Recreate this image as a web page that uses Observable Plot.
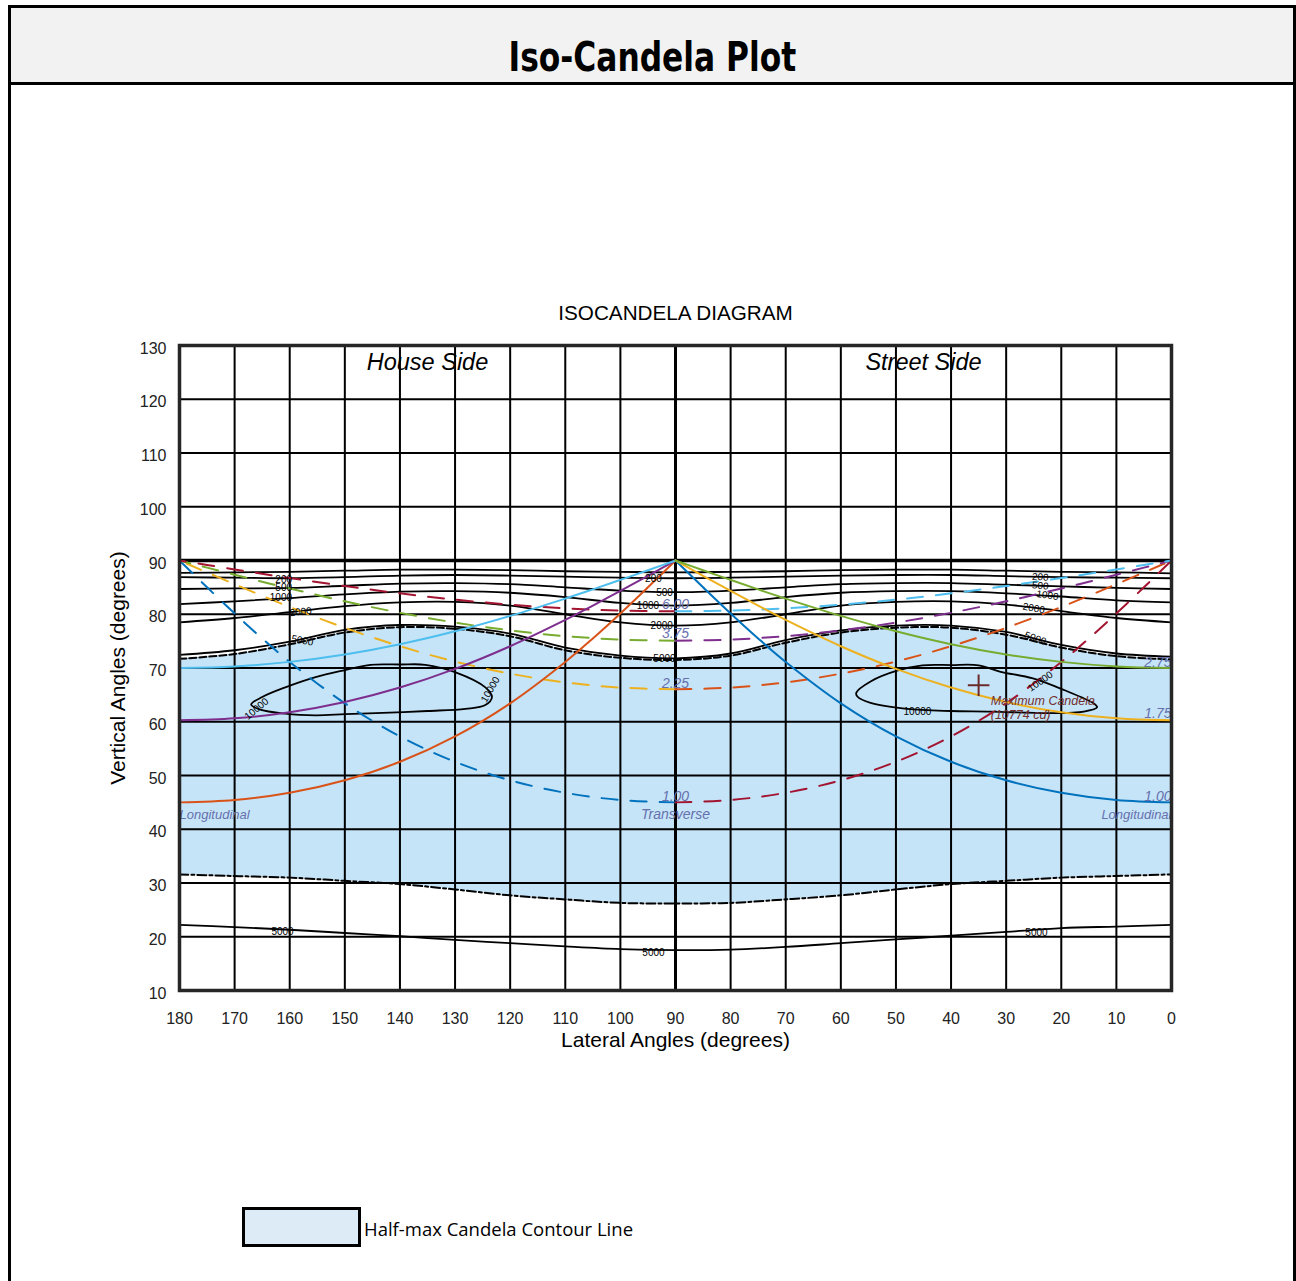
<!DOCTYPE html>
<html><head><meta charset="utf-8">
<script src="https://cdn.jsdelivr.net/npm/d3@7"></script>
<script src="https://cdn.jsdelivr.net/npm/@observablehq/plot@0.6"></script>
<style>
body{margin:0;background:#fff;}
#page{position:relative;width:1296px;height:1281px;overflow:hidden;background:#fff;}
#outer{position:absolute;left:8px;top:5px;width:1288px;height:1300px;border:3px solid #000;box-sizing:border-box;}
#band{position:absolute;left:8px;top:5px;width:1288px;height:80px;border:3px solid #000;box-sizing:border-box;background:#f2f2f2;}
#title{position:absolute;left:8px;width:1288px;top:37px;text-align:center;font-family:"Liberation Sans Narrow","DejaVu Sans Condensed",sans-serif;font-weight:bold;font-size:40px;line-height:40px;color:#000;}
#title span{display:inline-block;transform:scaleX(0.87);transform-origin:center;}
#chart{position:absolute;left:0;top:95px;}
#swatch{position:absolute;left:242px;top:1207px;width:119px;height:40px;box-sizing:border-box;border:3px solid #000;background:#ddebf7;}
#legtext{position:absolute;left:364px;top:1216px;font-family:"Open Sans",sans-serif;font-size:18.5px;line-height:26px;color:#000;}
</style></head>
<body><div id="page"><div id="outer"></div><div id="band"></div><div id="title"><span>Iso-Candela Plot</span></div><div id="chart"></div><div id="swatch"></div><div id="legtext">Half-max Candela Contour Line</div></div>
<script>
const xTicks = [180,170,160,150,140,130,120,110,100,90,80,70,60,50,40,30,20,10,0];
const yTicks = [10,20,30,40,50,60,70,80,90,100,110,120,130];

// iso-candela contours (lateral H, vertical V)
const contourH = [180,170,160,150,140,130,120,110,100,90,80,70,60,50,40,30,20,10,0];
const cd100  = [87.7,87.8,87.9,88.1,88.3,88.3,88.2,88.0,87.9,87.8,87.9,88.0,88.2,88.3,88.3,88.1,87.9,87.8,87.6];
const cd200  = [86.9,86.8,86.7,86.9,87.2,87.3,87.2,87.0,86.8,86.7,86.8,87.0,87.2,87.3,87.3,87.1,86.9,86.8,86.7];
const cd500  = [84.7,84.8,84.9,85.3,85.7,85.8,85.6,85.0,84.4,84.1,84.4,85.0,85.6,85.8,85.8,85.5,85.2,84.9,84.7];
const cd1000 = [81.9,82.4,83.0,83.7,84.2,84.3,84.0,83.2,82.1,81.6,82.1,83.2,84.0,84.3,84.3,83.9,83.3,82.6,82.2];
const cd2000 = [78.5,79.3,80.4,81.5,82.2,82.3,81.6,80.0,78.5,77.9,78.5,80.0,81.6,82.3,82.4,81.8,80.6,79.3,78.5];
const cd5000 = [72.45,73.3,74.9,77.1,78.0,77.7,76.4,73.8,72.3,71.8,72.7,75.2,77.0,77.9,77.9,76.7,74.3,72.7,72.1];
const halfMaxTop = [71.7,72.6,74.4,76.6,77.6,77.3,75.9,73.3,71.9,71.5,72.3,74.7,76.6,77.5,77.5,76.2,73.8,72.2,71.6];
const halfMaxBottom = [31.6,31.3,31.0,30.4,29.8,28.8,27.7,26.95,26.3,26.2,26.3,26.95,27.7,28.8,29.8,30.4,31.0,31.3,31.6];
const cd5000Bottom = [22.2,21.8,21.3,20.7,20.1,19.4,18.8,18.2,17.7,17.5,17.6,18.1,18.8,19.5,20.2,20.9,21.6,21.9,22.2];

const loopLeftH = [167.0,165.0,160.8,155.3,150.0,145.3,140.0,135.4,129.9,124.5,123.3,124.5,128.1,135.0,144.4,150.0,155.3,160.8,165.5];
const loopLeftV = [63.2,64.6,66.4,68.3,69.6,70.6,70.65,70.6,69.2,66.4,64.6,63.1,62.4,62.0,61.6,61.4,61.2,61.5,62.3];
const loopRightH = [57.2,54.6,49.8,45.2,40.0,35.0,31.0,25.3,19.5,14.1,13.5,15.9,22.0,32.8,40.1,48.0,54.6,57.0];
const loopRightV = [65.4,67.5,69.5,70.5,70.55,70.5,69.3,68.1,65.9,63.4,62.7,61.9,61.6,61.9,62.0,62.4,63.5,64.7];

// longitudinal (solid) lines, street side H and mirrored house side H
const longHStreet = [90,88,85,80,75,70,60,50,40,30,20,10,0];
const longHHouse  = [90,92,95,100,105,110,120,130,140,150,160,170,180];
const long100 = [90,88.0,85.02,80.15,75.49,71.12,63.43,57.27,52.55,49.11,46.78,45.44,45.0];
const long175 = [90,88.86,87.15,84.33,81.59,78.94,74.05,69.83,66.36,63.67,61.77,60.63,60.26];
const long275 = [90,89.27,88.18,86.39,84.62,82.91,79.70,76.84,74.43,72.52,71.14,70.30,70.02];

// transverse (dashed) lines
const transHStreet = [90,80,70,60,50,40,30,20,15,10,5,2,0];
const transHHouse  = [90,100,110,120,130,140,150,160,165,170,175,178,180];
const trans100 = [45,45.44,46.78,49.11,52.55,57.27,63.43,71.12,75.49,80.15,85.02,88.0,90];
const trans225 = [66.04,66.36,67.33,68.95,71.20,74.06,77.47,81.36,83.44,85.59,87.78,89.11,90];
const trans375 = [75.07,75.29,75.93,77.00,78.45,80.27,82.41,84.79,86.05,87.35,88.67,89.47,90];
const trans600 = [80.54,80.68,81.10,81.79,82.72,83.89,85.24,86.74,87.53,88.34,89.17,89.67,90];

// contour labels
const clabelText = ["200","500","1000","2000","5000","200","500","1000","2000","5000","200","500","1000","2000","5000","5000","5000","5000","10000","10000","10000","10000"];
const clabelH = [161.1,161.1,161.6,158.0,157.7,94,92,95,92.5,92,23.8,23.8,22.5,25,24.7,161.3,94,24.5,166,123.6,46.1,23.8];
const clabelV = [86.5,84.9,83.0,80.45,75.1,86.6,84.0,81.6,77.9,71.8,86.9,85.3,83.5,81.1,75.5,21.0,17.0,20.8,62.4,66.0,61.9,67.5];
const clabelRot = [0,0,0,-6,10,0,0,0,0,0,5,5,8,10,20,0,0,0,-40,-60,0,-35];

// ratio labels
const centerLabels = ["6.00","3.75","2.25","1.00","Transverse"];
const centerLabelV = [81.8,76.4,67.1,46.1,42.7];
const rightLabels = ["2.75","1.75","1.00","Longitudinal"];
const rightLabelV = [71.0,61.5,46.1,42.7];
const leftLabels = ["Longitudinal"];
const leftLabelV = [42.7];

const maxCandela = [{h:35.0, v:66.8}];
const maxText = ["Maximum Candela","(10774 cd)"];
const maxTextV = [63.8,61.3];

const C = {blue:"#0072BD", orange:"#D95319", yellow:"#EDB120", purple:"#7E2F8E", green:"#77AC30", lblue:"#4DBEEE", red:"#A2142F"};
const pts = (hs, vs) => hs.map((h,i)=>({h, v:vs[i]}));
const cline = (hs, vs, opt) => Plot.line(pts(hs,vs), {x:"h", y:"v", curve:"catmull-rom", strokeWidth:2, ...opt});

const fillData = contourH.map((h,i)=>({h, lo:halfMaxBottom[i], hi:halfMaxTop[i]}));
const dash = "16,13";
const labelColor = "#6670ad";

const plot = Plot.plot({
  width:1296, height:1000,
  marginLeft:179, marginRight:125, marginTop:250, marginBottom:105,
  x:{domain:[180,0], label:null},
  y:{domain:[10,130], label:null},
  style:{fontFamily:'"Liberation Sans", Arial, sans-serif', fontSize:"16px", background:"transparent", overflow:"visible", color:"#000"},
  marks:[
    Plot.areaY(fillData, {x:"h", y1:"lo", y2:"hi", fill:"#c5e4f8", curve:"catmull-rom"}),
    Plot.ruleX(xTicks.filter(d=>d!==90), {stroke:"#000", strokeWidth:2}),
    Plot.ruleY(yTicks.filter(d=>d!==90), {stroke:"#000", strokeWidth:2}),
    Plot.ruleX([90], {stroke:"#000", strokeWidth:3}),
    Plot.ruleY([90], {stroke:"#000", strokeWidth:3.5}),
    ...[cd100,cd200,cd500,cd1000,cd2000,cd5000,cd5000Bottom].map(a=>cline(contourH, a, {stroke:"#000", strokeWidth:1.8})),
    cline(contourH, halfMaxTop, {stroke:"#000", strokeWidth:2, strokeDasharray:"7,3"}),
    cline(contourH, halfMaxBottom, {stroke:"#000", strokeWidth:2, strokeDasharray:"9,3,3,3"}),
    Plot.line(pts(loopLeftH, loopLeftV), {x:"h", y:"v", curve:"catmull-rom-closed", stroke:"#000", strokeWidth:1.8}),
    Plot.line(pts(loopRightH, loopRightV), {x:"h", y:"v", curve:"catmull-rom-closed", stroke:"#000", strokeWidth:1.8}),
    // transverse dashed
    cline(transHHouse, trans100, {stroke:C.blue, strokeDasharray:dash}),
    cline(transHHouse, trans225, {stroke:C.yellow, strokeDasharray:dash}),
    cline(transHHouse, trans375, {stroke:C.green, strokeDasharray:dash}),
    cline(transHHouse, trans600, {stroke:C.red, strokeDasharray:dash}),
    cline(transHStreet, trans100, {stroke:C.red, strokeDasharray:dash}),
    cline(transHStreet, trans225, {stroke:C.orange, strokeDasharray:dash}),
    cline(transHStreet, trans375, {stroke:C.purple, strokeDasharray:dash}),
    cline(transHStreet, trans600, {stroke:C.lblue, strokeDasharray:dash}),
    // longitudinal solid
    cline(longHHouse, long100, {stroke:C.orange}),
    cline(longHHouse, long175, {stroke:C.purple}),
    cline(longHHouse, long275, {stroke:C.lblue}),
    cline(longHStreet, long100, {stroke:C.blue}),
    cline(longHStreet, long175, {stroke:C.yellow}),
    cline(longHStreet, long275, {stroke:C.green}),
    // contour labels
    Plot.text(clabelText, {x:(d,i)=>clabelH[i], y:(d,i)=>clabelV[i], rotate:(d,i)=>clabelRot[i], text:d=>d, fontSize:10, fontFamily:'"Liberation Sans Narrow", "Liberation Sans", sans-serif', fill:"#000"}),
    // ratio labels
    Plot.text(centerLabels, {x:()=>90, y:(d,i)=>centerLabelV[i], text:d=>d, fontSize:14, fontStyle:"italic", fill:labelColor}),
    Plot.text(rightLabels, {x:()=>0, y:(d,i)=>rightLabelV[i], text:d=>d, textAnchor:"end", fontSize:(d)=>d.length>4?13:14, fontStyle:"italic", fill:labelColor}),
    Plot.text(leftLabels, {x:()=>180, y:(d,i)=>leftLabelV[i], text:d=>d, textAnchor:"start", fontSize:13, fontStyle:"italic", fill:labelColor}),
    // maximum candela
    Plot.dot(maxCandela, {x:"h", y:"v", symbol:"plus", r:7, stroke:"#6b2a2a", strokeWidth:2}),
    Plot.text(maxText, {x:()=>32.8, y:(d,i)=>maxTextV[i], text:d=>d, textAnchor:"start", fontSize:12.5, fontStyle:"italic", fill:"#73302f"}),
    // side labels
    Plot.text(["House Side","Street Side"], {x:(d,i)=>[135,45][i], y:()=>126.8, text:d=>d, fontSize:23.5, fontStyle:"italic", fill:"#000"}),
    Plot.frame({stroke:"#262626", strokeWidth:3.5}),
    Plot.axisX(xTicks, {tickSize:0, tickPadding:22, fontSize:16, label:null, fill:"#222"}),
    Plot.axisY(yTicks, {tickSize:0, tickPadding:13, dy:3, fontSize:16, label:null, fill:"#222"}),
    Plot.text(["ISOCANDELA DIAGRAM"], {frameAnchor:"top", lineAnchor:"middle", dy:-32, text:d=>d, fontSize:20.7, fill:"#000"}),
    Plot.text(["Lateral Angles (degrees)"], {frameAnchor:"bottom", lineAnchor:"middle", dy:50, text:d=>d, fontSize:21, fill:"#000"}),
    Plot.text(["Vertical Angles (degrees)"], {frameAnchor:"left", textAnchor:"middle", lineAnchor:"middle", dx:-61, rotate:-90, text:d=>d, fontSize:21, fill:"#000"})
  ]
});
document.getElementById("chart").appendChild(plot);
</script>
</body></html>
